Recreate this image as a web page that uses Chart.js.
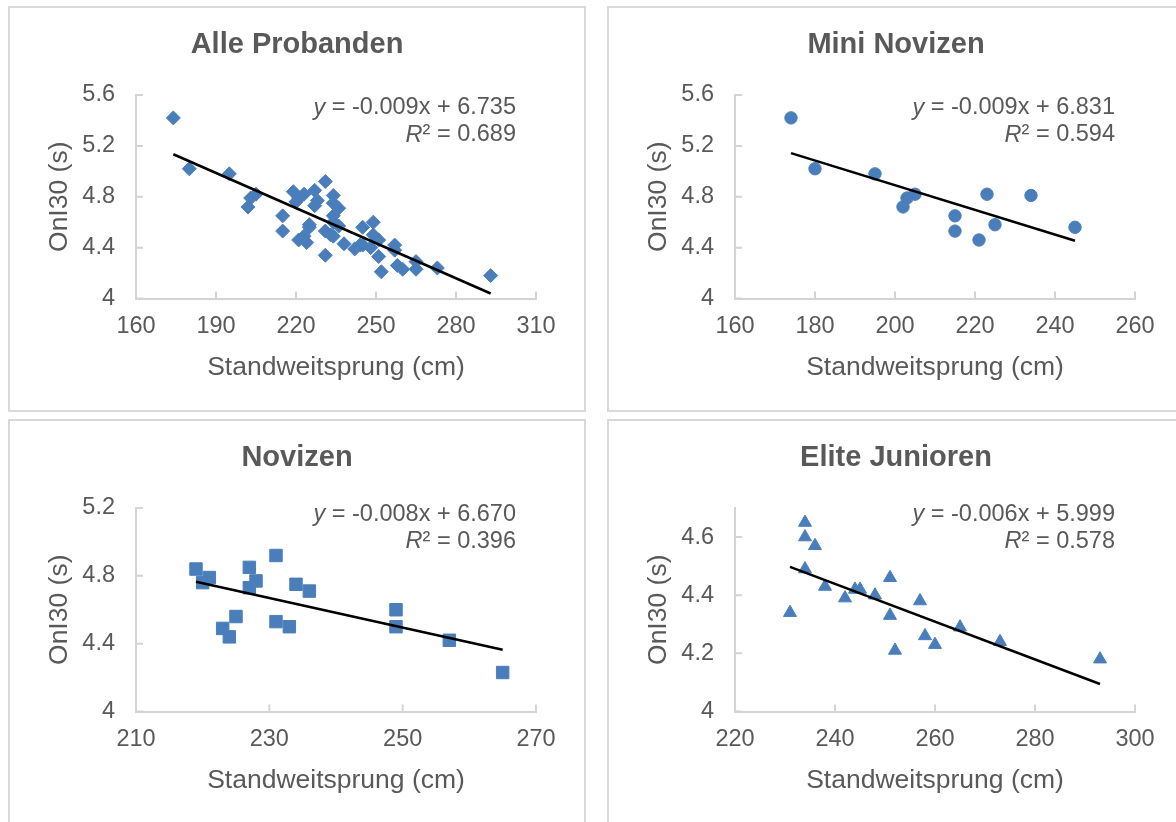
<!DOCTYPE html>
<html lang="de">
<head>
<meta charset="utf-8">
<title>Standweitsprung und OnI30</title>
<script src="https://cdn.jsdelivr.net/npm/chart.js@4.4.1/dist/chart.umd.min.js"></script>
<style>
  html, body { margin: 0; padding: 0; background: #fff; width: 1176px; height: 822px; overflow: hidden; }
  .frame { position: absolute; box-sizing: border-box; width: 578px; height: 406px; border: 2px solid #d9d9d9; }
  canvas { position: absolute; }
</style>
</head>
<body>
<div class="frame" style="left:8px;top:6px"></div>
<div class="frame" style="left:607px;top:6px"></div>
<div class="frame" style="left:8px;top:419px"></div>
<div class="frame" style="left:607px;top:419px"></div>
<canvas id="allChart" width="576" height="404" style="left:9px;top:7px"></canvas>
<canvas id="miniChart" width="576" height="404" style="left:608px;top:7px"></canvas>
<canvas id="novChart" width="576" height="404" style="left:9px;top:420px"></canvas>
<canvas id="eliteChart" width="576" height="404" style="left:608px;top:420px"></canvas>
<script>
// Standweitsprung (cm) and OnI30 time (s) per group
const miniX = [174, 180, 195, 202, 203, 205, 215, 215, 221, 223, 225, 234, 245];
const miniY = [5.42, 5.02, 4.98, 4.72, 4.79, 4.82, 4.65, 4.53, 4.46, 4.82, 4.58, 4.81, 4.56];

const novX = [219, 220, 221, 223, 224, 225, 227, 227, 228, 231, 231, 233, 234, 236, 249, 249, 257, 265];
const novY = [4.84, 4.76, 4.79, 4.49, 4.44, 4.56, 4.85, 4.73, 4.77, 4.92, 4.53, 4.50, 4.75, 4.71, 4.60, 4.50, 4.42, 4.23];

const eliteX = [231, 234, 234, 236, 234, 238, 242, 244, 245, 248, 251, 251, 252, 257, 258, 260, 265, 273, 293];
const eliteY = [4.34, 4.65, 4.60, 4.57, 4.49, 4.43, 4.39, 4.42, 4.42, 4.40, 4.46, 4.33, 4.21, 4.38, 4.26, 4.23, 4.29, 4.24, 4.18];

// all participants = the three groups together
const allX = [...miniX, ...novX, ...eliteX];
const allY = [...miniY, ...novY, ...eliteY];

const panelTitles = ['Alle Probanden', 'Mini Novizen', 'Novizen', 'Elite Junioren'];

// linear trend lines: y = slope * x + intercept
const slopes = [-0.0092, -0.0097, -0.0087, -0.0065];
const intercepts = [6.735, 6.831, 6.670, 5.999];
const rSquared = [0.689, 0.594, 0.396, 0.578];

// axis ranges: [min, max, step]
const xTicks = [[160, 310, 30], [160, 260, 20], [210, 270, 20], [220, 300, 20]];
const yTicks = [[4, 5.6, 0.4], [4, 5.6, 0.4], [4, 5.2, 0.4], [4, 4.7, 0.2]];

const xTitle = 'Standweitsprung (cm)';
const yTitle = 'OnI30 (s)';

const FONT = "'Liberation Sans', Arial, Helvetica, sans-serif";
const TEXT = '#595959';
const AXIS = '#d4d4d4';
const BLUE = '#4a7ebb';

Chart.defaults.font.family = FONT;
Chart.defaults.color = TEXT;

function slopeText(s) {
  return (Math.trunc(s * 1000) / 1000).toFixed(3);
}

// short tick marks pointing into the plot area
const insideTicks = {
  id: 'insideTicks',
  beforeDatasetsDraw(chart, args, o) {
    const { ctx, chartArea: a, scales: { x, y } } = chart;
    ctx.save();
    ctx.strokeStyle = o.color;
    ctx.lineWidth = o.width;
    ctx.beginPath();
    x.ticks.forEach(t => {
      const p = x.getPixelForValue(t.value);
      ctx.moveTo(p, a.bottom);
      ctx.lineTo(p, a.bottom - o.length);
    });
    y.ticks.forEach(t => {
      const p = y.getPixelForValue(t.value);
      ctx.moveTo(a.left, p);
      ctx.lineTo(a.left + o.length, p);
    });
    ctx.stroke();
    ctx.restore();
  }
};

// regression equation and R² in the upper right of the plot
const equationLabel = {
  id: 'equationLabel',
  afterDatasetsDraw(chart, args, o) {
    const { ctx, chartArea: a } = chart;
    const right = a.right - o.inset;
    const lines = [
      [['y', true], [' = ' + slopeText(o.slope) + 'x + ' + o.intercept.toFixed(3), false]],
      [['R', true], ['\u00b2 = ' + o.r2.toFixed(3), false]]
    ];
    ctx.save();
    ctx.fillStyle = TEXT;
    ctx.textBaseline = 'middle';
    ctx.textAlign = 'left';
    lines.forEach((parts, li) => {
      const yPos = a.top + o.top + li * o.lineGap;
      const widths = parts.map(([txt, it]) => {
        ctx.font = (it ? 'italic ' : '') + o.size + 'px ' + FONT;
        return ctx.measureText(txt).width;
      });
      let xPos = right - widths.reduce((s, w) => s + w, 0);
      parts.forEach(([txt, it], k) => {
        ctx.font = (it ? 'italic ' : '') + o.size + 'px ' + FONT;
        ctx.fillText(txt, xPos, yPos);
        xPos += widths[k];
      });
    });
    ctx.restore();
  }
};

function buildChart(canvasId, i, xs, ys, marker, radius, eqTop) {
  const [xMin, xMax, xStep] = xTicks[i];
  const [yMin, yMax, yStep] = yTicks[i];
  const lo = Math.min(...xs);
  const hi = Math.max(...xs);
  const trend = [lo, hi].map(x => ({ x, y: slopes[i] * x + intercepts[i] }));
  const points = xs.map((x, k) => ({ x, y: ys[k] }));

  return new Chart(document.getElementById(canvasId), {
    type: 'scatter',
    data: {
      datasets: [
        {
          type: 'line',
          data: trend,
          borderColor: '#000000',
          borderWidth: 2.5,
          pointRadius: 0,
          fill: false
        },
        {
          data: points,
          pointStyle: marker,
          pointRadius: radius,
          backgroundColor: BLUE,
          borderColor: BLUE,
          borderWidth: 1
        }
      ]
    },
    options: {
      responsive: false,
      animation: false,
      events: [],
      layout: { padding: { left: 0, right: 0, top: 0, bottom: 22.5 } },
      plugins: {
        legend: { display: false },
        tooltip: { enabled: false },
        title: {
          display: true,
          text: panelTitles[i],
          color: TEXT,
          font: { size: 29, weight: 'bold', lineHeight: 1.2 },
          padding: { top: 21, bottom: 32.2 }
        },
        insideTicks: { color: AXIS, width: 2, length: 7 },
        equationLabel: {
          slope: slopes[i], intercept: intercepts[i], r2: rSquared[i],
          size: 23.5, inset: 20, top: eqTop, lineGap: 27
        }
      },
      scales: {
        x: {
          type: 'linear',
          min: xMin, max: xMax,
          ticks: { stepSize: xStep, color: TEXT, font: { size: 23.5 }, padding: 14, maxRotation: 0 },
          grid: { display: false, drawTicks: false },
          border: { display: true, color: AXIS, width: 2 },
          title: { display: true, text: xTitle, color: TEXT, font: { size: 26.5, lineHeight: 1.2 }, padding: { top: 0, bottom: 5 } },
          afterFit(scale) {
            scale.height = 90;
            scale.paddingRight = 49;
          }
        },
        y: {
          type: 'linear',
          min: yMin, max: yMax,
          ticks: {
            stepSize: yStep, includeBounds: false, color: TEXT, font: { size: 23.5 }, padding: 21,
            callback: v => String(+v.toFixed(1))
          },
          grid: { display: false, drawTicks: false },
          border: { display: true, color: AXIS, width: 2 },
          title: { display: true, text: yTitle, color: TEXT, font: { size: 26.5, lineHeight: 1.2 }, padding: { top: 35, bottom: 0 } },
          afterFit(scale) { scale.width = 127; }
        }
      }
    },
    plugins: [insideTicks, equationLabel]
  });
}

buildChart('allChart', 0, allX, allY, 'rectRot', 7, 13);
buildChart('miniChart', 1, miniX, miniY, 'circle', 6.2, 13);
buildChart('novChart', 2, novX, novY, 'rect', 8.8, 6.5);
buildChart('eliteChart', 3, eliteX, eliteY, 'triangle', 7.5, 6.5);
</script>
</body>
</html>
